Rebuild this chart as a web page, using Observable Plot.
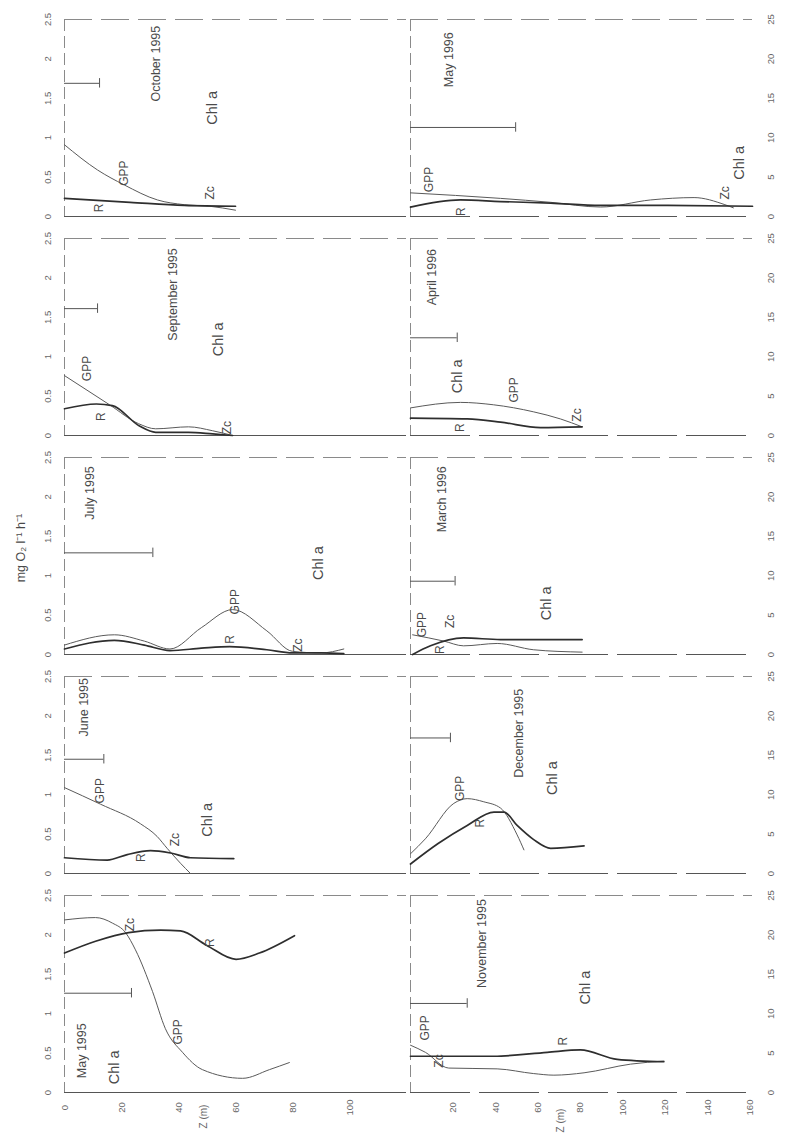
<!DOCTYPE html>
<html><head><meta charset="utf-8">
<script src="https://cdn.jsdelivr.net/npm/d3@7"></script>
<script src="https://cdn.jsdelivr.net/npm/@observablehq/plot@0.6"></script>
<style>
body{margin:0;background:#fff;}
#wrap{position:relative;width:799px;height:1134px;overflow:hidden;background:#fff;}
#left{position:absolute;left:0;top:0;}
#right{position:absolute;left:408px;top:0;}
</style></head><body><div id="wrap"><div id="left"></div><div id="right"></div></div>
<script>
// ---------- categories ----------
const leftMonths = ["October 1995", "September 1995", "July 1995", "June 1995", "May 1995"];
const rightMonths = ["May 1996", "April 1996", "March 1996", "December 1995", "November 1995"];

// ---------- tick labels ----------
const valueTicks = [0, 0.5, 1, 1.5, 2, 2.5];
const valueTickLabels = ["0", "0.5", "1", "1.5", "2", "2.5"];
const chlTickLabels = ["0", "5", "10", "15", "20", "25"];
const leftDepthTicks = [0, 20, 40, 60, 80, 100];
const rightDepthTicks = [20, 40, 60, 80, 100, 120, 140, 160];
const yLabel = "mg O\u2082 l\u207B\u00B9 h\u207B\u00B9";
const depthLabel = "Z (m)";

// ---------- profiles [depth m, mg O2 l-1 h-1] ----------
const gppOct95 = [[0,0.91],[11.6,0.59],[21,0.40],[32.6,0.21],[42,0.15],[51,0.13],[60,0.08]];
const rOct95   = [[0,0.23],[23,0.18],[42,0.14],[60,0.13]];
const gppSep95 = [[0,0.76],[15.8,0.39],[26,0.15],[32,0.085],[43.5,0.11],[52,0.06],[59,0.0]];
const rSep95   = [[0,0.34],[11.2,0.40],[16.8,0.38],[26.3,0.12],[32,0.04],[43.5,0.04],[52,0.02],[59,0.0]];
const gppJul95 = [[0,0.12],[17.5,0.25],[28,0.17],[37,0.07],[48,0.34],[59,0.57],[71,0.30],[80,0.04],[90,0.02],[98,0.07]];
const rJul95   = [[0,0.07],[17.5,0.18],[28,0.12],[37,0.05],[48,0.08],[58,0.10],[71,0.06],[80,0.02],[90,0.02],[98,0.01]];
const gppJun95 = [[0,1.09],[12.6,0.88],[26.7,0.63],[32.5,0.47],[36,0.32],[40.7,0.13],[44.2,0.0]];
const rJun95   = [[0,0.20],[15,0.17],[22,0.24],[30.2,0.29],[37.2,0.26],[44.2,0.20],[59.4,0.19]];
const gppMay95 = [[0,2.19],[10.9,2.22],[16.8,2.15],[21.4,2.03],[24.9,1.81],[30.9,1.28],[35.4,0.81],[41.4,0.51],[48.4,0.29],[62.5,0.18],[71.9,0.29],[78.9,0.38]];
const rMay95   = [[0,1.77],[10.9,1.92],[22.5,2.03],[33.7,2.06],[40.7,2.05],[49.8,1.87],[60.2,1.69],[68.4,1.77],[80.7,1.99]];

const gppMay96 = [[0,0.30],[42.4,0.23],[66,0.18],[89.5,0.12],[113,0.21],[133.5,0.24],[148,0.15],[152,0.11]];
const rMay96   = [[0,0.12],[23.5,0.21],[42.4,0.19],[66,0.17],[89.5,0.14],[121,0.14],[161,0.13]];
const gppApr96 = [[0,0.35],[23.5,0.42],[39,0.39],[58,0.30],[70.6,0.21],[80.8,0.11]];
const rApr96   = [[0,0.22],[26.7,0.21],[42.4,0.17],[61.2,0.10],[80.8,0.11]];
const gppMar96 = [[1,0.25],[15.7,0.17],[25,0.11],[40.8,0.14],[58,0.06],[80.8,0.03]];
const rMar96   = [[1,0.0],[9.4,0.11],[25,0.21],[42.4,0.19],[80.8,0.19]];
const gppDec95 = [[0,0.25],[7,0.44],[20.4,0.89],[26.7,0.95],[34.5,0.91],[42.4,0.83],[50.2,0.49],[53.4,0.30]];
const rDec95   = [[0,0.12],[13,0.38],[26.7,0.61],[39.3,0.78],[44,0.78],[50.2,0.61],[58,0.43],[66,0.32],[81.7,0.35]];
const gppNov95 = [[0,0.60],[7,0.51],[18,0.31],[40.8,0.30],[58,0.24],[67.5,0.22],[81.7,0.25],[103.6,0.36],[119.3,0.40]];
const rNov95   = [[0,0.46],[39.3,0.46],[64.4,0.51],[80,0.54],[97.3,0.42],[119.3,0.39]];

// ---------- Chl a bars (value on the shared axis, depth extent) ----------
const leftChlValue = [1.69, 1.61, 1.29, 1.45, 1.26];
const leftChlDepth = [12.3, 11.6, 31, 13.8, 23.5];
const rightChlValue = [1.13, 1.24, 0.93, 1.72, 1.13];
const rightChlDepth = [49.5, 22, 21, 18.8, 26.7];

// ---------- in-panel labels [text, depth, value] ----------
const leftTitles = [["October 1995",32,1.94],["September 1995",38,1.79],["July 1995",9,2.05],["June 1995",7,2.11],["May 1995",6.3,0.53]];
const leftChlLabels = [[52,1.38],[54,1.22],[89,1.16],[50,0.68],[17.5,0.32]];
const leftSeriesLabels = [
  ["October 1995","GPP",21,0.55],["October 1995","R",12,0.11],["October 1995","Zc",51,0.30],
  ["September 1995","GPP",8,0.85],["September 1995","R",13,0.24],["September 1995","Zc",57,0.10],
  ["July 1995","GPP",60,0.67],["July 1995","R",58,0.19],["July 1995","Zc",82,0.12],
  ["June 1995","GPP",12.6,1.05],["June 1995","R",27,0.20],["June 1995","Zc",39,0.43],
  ["May 1995","GPP",40,0.77],["May 1995","R",51,1.90],["May 1995","Zc",23,2.13]
];
const rightTitles = [["May 1996",18,1.99],["April 1996",10,2.01],["March 1996",15,1.97],["December 1995",51,1.78],["November 1995",33.8,1.89]];
const rightChlLabels = [[155,0.68],[22,0.75],[64,0.65],[66.7,1.21],[82.4,1.33]];
const rightSeriesLabels = [
  ["May 1996","GPP",9,0.47],["May 1996","R",24,0.06],["May 1996","Zc",148,0.30],
  ["April 1996","GPP",48.7,0.58],["April 1996","R",23.5,0.10],["April 1996","Zc",78.5,0.26],
  ["March 1996","GPP",5.5,0.38],["March 1996","R",14,0.06],["March 1996","Zc",18.5,0.42],
  ["December 1995","GPP",23.5,1.08],["December 1995","R",33,0.64],
  ["November 1995","GPP",7,0.82],["November 1995","R",72,0.65],["November 1995","Zc",13.3,0.40]
];

// ---------- build tables ----------
function toRows(month, pairs) { return pairs.map(([depth, value]) => ({month, depth, value})); }
const leftGpp = [gppOct95, gppSep95, gppJul95, gppJun95, gppMay95].flatMap((p, i) => toRows(leftMonths[i], p));
const leftR   = [rOct95, rSep95, rJul95, rJun95, rMay95].flatMap((p, i) => toRows(leftMonths[i], p));
const rightGpp = [gppMay96, gppApr96, gppMar96, gppDec95, gppNov95].flatMap((p, i) => toRows(rightMonths[i], p));
const rightR   = [rMay96, rApr96, rMar96, rDec95, rNov95].flatMap((p, i) => toRows(rightMonths[i], p));

const FONT = "'Liberation Sans', Arial, Helvetica, sans-serif";
const INK = "#4a4a4a";

function panelColumn({months, gpp, r, chlValue, chlDepth, titles, chlLabels, seriesLabels,
                      depthDomain, depthTicks, depthTitleX, width, marginLeft, marginRight, side}) {
  const bars = months.map((m, i) => ({month: m, value: chlValue[i], depth: chlDepth[i]}));
  const titleRows = titles.map(([text, depth, value]) => ({month: text, text, depth, value}));
  const chlRows = chlLabels.map(([depth, value], i) => ({month: months[i], text: "Chl a", depth, value}));
  const serRows = seriesLabels.map(([month, text, depth, value]) => ({month, text, depth, value}));
  const bottom = months[months.length - 1];
  const marks = [
    Plot.ruleY([0], {stroke: "#555", strokeWidth: 1, strokeDasharray: side === "right" ? "60,9" : null}),
    Plot.ruleY([2.5], {stroke: "#8a8a8a", strokeWidth: 1, strokeDasharray: "28,9"}),
    Plot.ruleX([0], {stroke: "#8a8a8a", strokeWidth: 1, strokeDasharray: "12,5"}),
    Plot.ruleY(bars, {fy: "month", y: "value", x1: 0, x2: "depth", stroke: "#555", strokeWidth: 1}),
    Plot.ruleX(bars, {fy: "month", x: "depth", y1: d => d.value - 0.06, y2: d => d.value + 0.06, stroke: "#555", strokeWidth: 1}),
    Plot.line(gpp, {fy: "month", x: "depth", y: "value", z: "month", curve: "monotone-x", stroke: "#5a5a5a", strokeWidth: 1}),
    Plot.line(r, {fy: "month", x: "depth", y: "value", z: "month", curve: "monotone-x", stroke: "#2e2e2e", strokeWidth: 1.7}),
    Plot.text(titleRows, {fy: "month", x: "depth", y: "value", text: "text", rotate: -90, fontSize: 12.5, fill: INK, textAnchor: "middle", lineAnchor: "middle"}),
    Plot.text(chlRows, {fy: "month", x: "depth", y: "value", text: "text", rotate: -90, fontSize: 14.5, fill: INK, textAnchor: "middle", lineAnchor: "middle"}),
    Plot.text(serRows, {fy: "month", x: "depth", y: "value", text: "text", rotate: -90, fontSize: 12, fill: INK, textAnchor: "middle", lineAnchor: "middle"}),
    Plot.text(depthTicks, {fy: () => bottom, x: d => d, text: d => String(d), frameAnchor: "bottom", dy: 15, rotate: -90, fontSize: 9.5, fill: "#666", textAnchor: "middle", lineAnchor: "middle"}),
    Plot.text([depthLabel], {fy: () => bottom, x: () => depthTitleX, text: d => d, frameAnchor: "bottom", dy: side === "right" ? 28 : 24, rotate: -90, fontSize: 10, fill: "#666", textAnchor: "middle", lineAnchor: "middle"})
  ];
  if (side === "left") {
    marks.push(Plot.text(valueTicks, {y: d => d, text: (d, i) => valueTickLabels[i], frameAnchor: "left", dx: -17, rotate: -90, fontSize: 9.5, fill: "#666", textAnchor: "middle", lineAnchor: "middle"}));
    marks.push(Plot.text([yLabel], {fy: () => months[2], y: () => 1.35, text: d => d, frameAnchor: "left", dx: -44, rotate: -90, fontSize: 12.5, fill: INK, textAnchor: "middle", lineAnchor: "middle"}));
  } else {
    marks.push(Plot.text(valueTicks, {y: d => d, text: (d, i) => chlTickLabels[i], frameAnchor: "right", dx: 18, rotate: -90, fontSize: 9.5, fill: "#666", textAnchor: "middle", lineAnchor: "middle"}));
  }
  return Plot.plot({
    width, height: 1134,
    marginLeft, marginRight, marginTop: 18, marginBottom: 41,
    style: {fontFamily: FONT, background: "transparent", overflow: "visible"},
    x: {domain: depthDomain, axis: null},
    y: {domain: [0, 2.5], axis: null},
    fy: {domain: months, axis: null, paddingInner: 0.1, paddingOuter: 0},
    marks
  });
}

document.getElementById("left").appendChild(panelColumn({
  months: leftMonths, gpp: leftGpp, r: leftR, chlValue: leftChlValue, chlDepth: leftChlDepth,
  titles: leftTitles, chlLabels: leftChlLabels, seriesLabels: leftSeriesLabels,
  depthDomain: [0, 120], depthTicks: leftDepthTicks, depthTitleX: 49,
  width: 410, marginLeft: 64, marginRight: 4, side: "left"
}));
document.getElementById("right").appendChild(panelColumn({
  months: rightMonths, gpp: rightGpp, r: rightR, chlValue: rightChlValue, chlDepth: rightChlDepth,
  titles: rightTitles, chlLabels: rightChlLabels, seriesLabels: rightSeriesLabels,
  depthDomain: [0, 161], depthTicks: rightDepthTicks, depthTitleX: 70.6,
  width: 391, marginLeft: 2, marginRight: 47, side: "right"
}));
</script>
</body></html>
